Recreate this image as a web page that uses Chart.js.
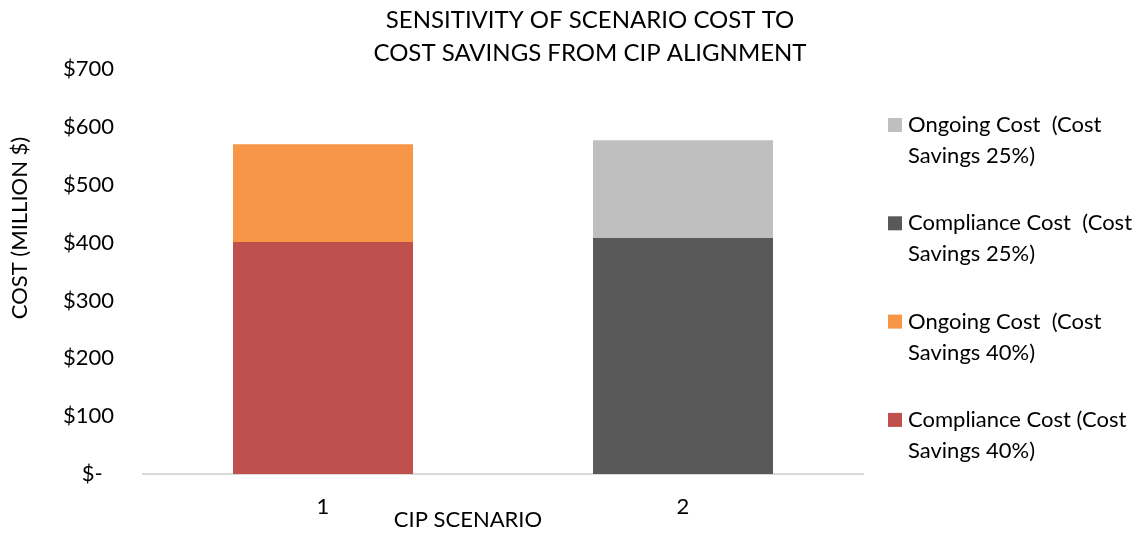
<!DOCTYPE html>
<html>
<head>
<meta charset="utf-8">
<script src="https://cdn.jsdelivr.net/npm/chart.js@4.4.1/dist/chart.umd.min.js"></script>
<style>
  html, body { margin: 0; padding: 0; background: #fff; }
  #wrap { width: 1134px; height: 533px; position: relative; }
</style>
</head>
<body>
<div id="wrap"><canvas id="costChart"></canvas></div>
<script>
var scenarios = ["1", "2"];
var compliance40 = [401, null];
var ongoing40 = [169, null];
var compliance25 = [null, 408];
var ongoing25 = [null, 169];
var yTicks = [0, 100, 200, 300, 400, 500, 600, 700];

var titleLines = ["SENSITIVITY OF SCENARIO COST TO", "COST SAVINGS FROM CIP ALIGNMENT"];
var yTitle = "COST (MILLION $)";
var xTitle = "CIP SCENARIO";

var fontName = "Lato, 'Open Sans', sans-serif";

// titles and the two-line legend drawn on the canvas, placed like the original
var decor = {
	id: "decor",
	afterDraw: function(chart) {
		var ctx = chart.ctx;
		ctx.save();
		ctx.fillStyle = "#000";
		ctx.textBaseline = "middle";

		ctx.textAlign = "center";
		ctx.font = "24px " + fontName;
		ctx.fillText(titleLines[0], 590, 20);
		ctx.fillText(titleLines[1], 590, 53);

		ctx.font = "22px " + fontName;
		ctx.fillText(xTitle, 468, 520);

		ctx.save();
		ctx.translate(20, 228);
		ctx.rotate(-Math.PI / 2);
		ctx.fillText(yTitle, 0, 0);
		ctx.restore();

		// legend, reversed order like the original
		ctx.textAlign = "left";
		ctx.font = "22px " + fontName;
		var items = chart.data.datasets.slice().reverse();
		items.forEach(function(ds, i) {
			var y = 125 + i * 98.3;
			ctx.fillStyle = ds.backgroundColor;
			ctx.fillRect(888, y - 7, 14, 14);
			ctx.fillStyle = "#000";
			ctx.fillText(ds.legendLines[0], 908, y);
			ctx.fillText(ds.legendLines[1], 908, y + 31);
		});
		ctx.restore();
	}
};

new Chart("costChart", {
	type: "bar",
	data: {
		labels: scenarios,
		datasets: [
			{ label: "Compliance Cost (Cost Savings 40%)", legendLines: ["Compliance Cost (Cost", "Savings 40%)"], data: compliance40, backgroundColor: "#C0504D" },
			{ label: "Ongoing Cost  (Cost Savings 40%)", legendLines: ["Ongoing Cost  (Cost", "Savings 40%)"], data: ongoing40, backgroundColor: "#F79646" },
			{ label: "Compliance Cost  (Cost Savings 25%)", legendLines: ["Compliance Cost  (Cost", "Savings 25%)"], data: compliance25, backgroundColor: "#595959" },
			{ label: "Ongoing Cost  (Cost Savings 25%)", legendLines: ["Ongoing Cost  (Cost", "Savings 25%)"], data: ongoing25, backgroundColor: "#BFBFBF" }
		]
	},
	options: {
		responsive: true,
		maintainAspectRatio: false,
		animation: false,
		layout: { padding: { top: 69, right: 271, bottom: 0, left: 0 } },
		datasets: { bar: { barPercentage: 0.5, categoryPercentage: 1 } },
		plugins: {
			legend: { display: false },
			title: { display: false },
			tooltip: { enabled: false }
		},
		scales: {
			x: {
				stacked: true,
				grid: { display: false, drawTicks: false },
				border: { display: true, color: "#D9D9D9", width: 2 },
				ticks: { color: "#000", padding: 20, font: { family: fontName, size: 22 } },
				afterFit: function(scale) { scale.height = 59; }
			},
			y: {
				stacked: true,
				min: 0,
				max: 700,
				grid: { display: false, drawTicks: false },
				border: { display: false },
				afterBuildTicks: function(scale) {
					scale.ticks = yTicks.map(function(v) { return { value: v }; });
				},
				ticks: {
					color: "#000",
					padding: 29,
					font: { family: fontName, size: 22 },
					callback: function(v) { return v === 0 ? "$-  " : "$" + v; }
				},
				afterFit: function(scale) { scale.width = 143; }
			}
		}
	},
	plugins: [decor]
});
</script>
</body>
</html>
